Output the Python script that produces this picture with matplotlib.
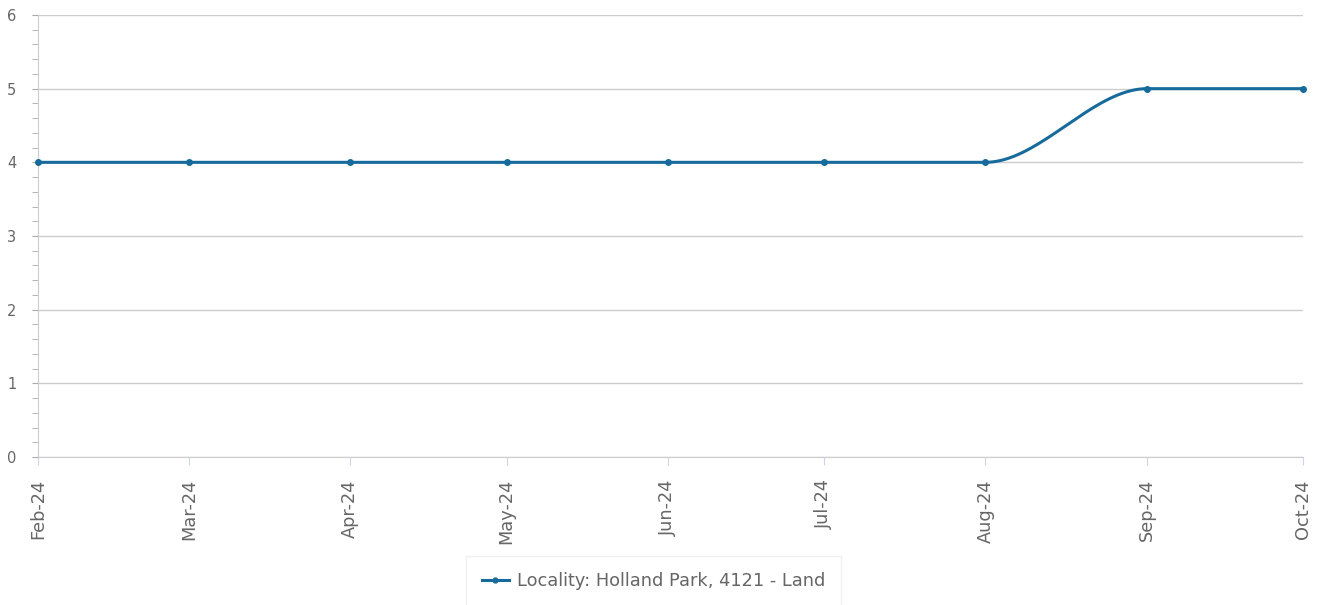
import numpy as np
import pandas as pd
import matplotlib
matplotlib.use('Agg')
import matplotlib.pyplot as plt
import matplotlib.dates as mdates
from matplotlib.ticker import MultipleLocator

plt.rcParams['font.family'] = ['DejaVu Sans']

months = ['2024-02-01', '2024-03-01', '2024-04-01', '2024-05-01', '2024-06-01',
          '2024-07-01', '2024-08-01', '2024-09-01', '2024-10-01']
values = [4, 4, 4, 4, 4, 4, 4, 5, 5]
series_label = 'Locality: Holland Park, 4121 - Land'

LINE = '#176b9c'
GRID = '#cccccc'
TXT = '#666666'


def monotone_curve(x, y, n=40):
    # Fritsch-Carlson monotone cubic, used only to draw the smoothed line
    x = np.asarray(x, float)
    y = np.asarray(y, float)
    h = np.diff(x)
    d = np.diff(y) / h
    m = np.zeros_like(y)
    m[0], m[-1] = d[0], d[-1]
    for i in range(1, len(y) - 1):
        if d[i - 1] * d[i] > 0:
            w1 = 2 * h[i] + h[i - 1]
            w2 = h[i] + 2 * h[i - 1]
            m[i] = (w1 + w2) / (w1 / d[i - 1] + w2 / d[i])
    xs, ys = [], []
    for i in range(len(x) - 1):
        t = np.linspace(0, 1, n)
        h00 = 2 * t**3 - 3 * t**2 + 1
        h10 = t**3 - 2 * t**2 + t
        h01 = -2 * t**3 + 3 * t**2
        h11 = t**3 - t**2
        xs.append(x[i] + t * h[i])
        ys.append(h00 * y[i] + h10 * h[i] * m[i] + h01 * y[i + 1] + h11 * h[i] * m[i + 1])
    return np.concatenate(xs), np.concatenate(ys)


dates = pd.to_datetime(months)
xnum = mdates.date2num(dates)
cx, cy = monotone_curve(xnum, values)

fig = plt.figure(figsize=(13.22, 6.05), dpi=100)
ax = fig.add_axes([38 / 1322, 1 - 457 / 605, (1303 - 38) / 1322, (457 - 15) / 605])

ax.plot(cx, cy, color=LINE, lw=2.2, solid_capstyle='round', zorder=3, clip_on=False)
ax.plot(xnum, values, 'o', color=LINE, ms=4, zorder=4, clip_on=False)

ax.set_xlim(xnum[0], xnum[-1])
ax.set_ylim(0, 6)
ax.yaxis.set_major_locator(MultipleLocator(1))
ax.yaxis.set_minor_locator(MultipleLocator(0.2))
ax.grid(axis='y', which='major', color=GRID, lw=1)
ax.set_axisbelow(True)

ax.set_xticks(xnum)
ax.set_xticklabels([d.strftime('%b-%y') for d in dates], rotation=90)

for s in ['top', 'right']:
    ax.spines[s].set_visible(False)
ax.spines['left'].set_color(GRID)
ax.spines['bottom'].set_color(GRID)

ax.tick_params(axis='y', which='major', length=4.5, color='#aaaaaa', labelcolor=TXT, labelsize=10.5, pad=11)
ax.tick_params(axis='y', which='minor', length=4.5, color='#aaaaaa')
ax.tick_params(axis='x', length=6, color='#ccd6eb', labelcolor=TXT, labelsize=12.8, pad=10)

leg_handle = plt.Line2D([], [], color=LINE, lw=2.2, marker='o', ms=3.5)
leg = fig.legend([leg_handle], [series_label], loc='center', bbox_to_anchor=(653.5 / 1322, 1 - 581 / 605),
                 frameon=True, fancybox=False, fontsize=12.8, handlelength=1.5, handletextpad=0.45,
                 borderpad=0.9, labelcolor=TXT)
leg.get_frame().set_edgecolor('#eeeeee')
leg.get_frame().set_linewidth(1)

fig.savefig('out.png', dpi=100)
